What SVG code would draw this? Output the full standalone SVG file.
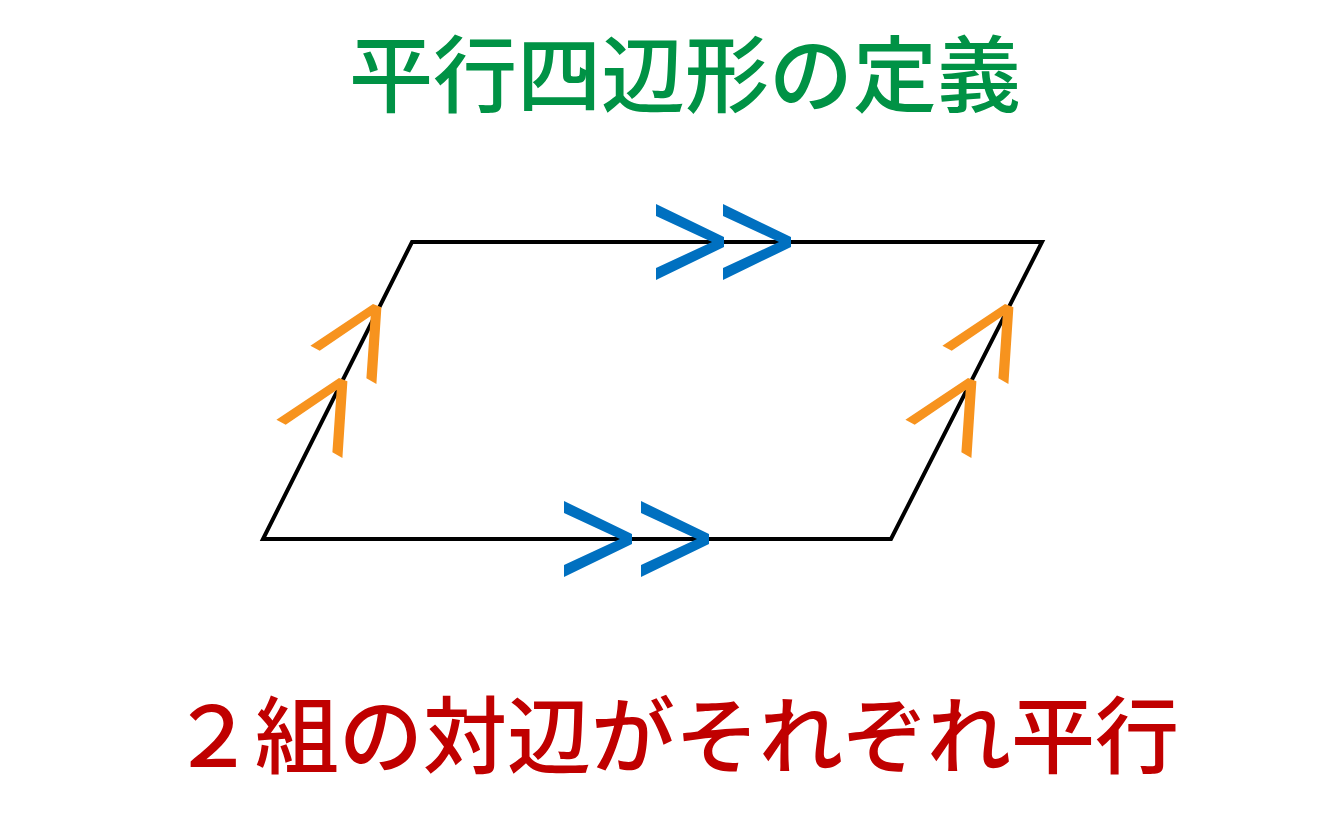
<svg xmlns="http://www.w3.org/2000/svg" width="1333" height="833" viewBox="0 0 1333 833">
<style>
.t{font-family:"Noto Sans CJK JP","Noto Sans",sans-serif;font-weight:500;font-size:84px;text-anchor:middle}
.edge{fill:none;stroke:#000;stroke-width:4;stroke-linejoin:miter}
.blue{fill:#0070C0}
.orange{fill:#F7931E}
</style>
<defs>
<polygon id="chevB" points="-68,-38 0,-5 0,5 -68,38 -68,26 -12,0 -68,-26"/>
<polygon id="chevO" points="-62.6,41.7 0,0 8.4,3.3 3.4,80 -6.6,74.3 -2.3,12 -53.3,46.7"/>
</defs>
<rect width="1333" height="833" fill="#fff"/>
<g id="title"><text class="t" x="685" y="106" fill="#009245">平行四辺形の定義</text></g>
<g id="parallelogram"><polygon class="edge" points="412,242 1042,242 891,539 263,539"/></g>
<g id="connectors">
<use href="#chevB" class="blue" transform="translate(724,242)"/>
<use href="#chevB" class="blue" transform="translate(791,242)"/>
<use href="#chevB" class="blue" transform="translate(632,539)"/>
<use href="#chevB" class="blue" transform="translate(709,539)"/>
<use href="#chevO" class="orange" transform="translate(373,304)"/>
<use href="#chevO" class="orange" transform="translate(339,378)"/>
<use href="#chevO" class="orange" transform="translate(1005,304)"/>
<use href="#chevO" class="orange" transform="translate(968,378)"/>
</g>
<g id="caption"><text class="t" x="675" y="767" fill="#C00000">２組の対辺がそれぞれ平行</text></g>
</svg>
